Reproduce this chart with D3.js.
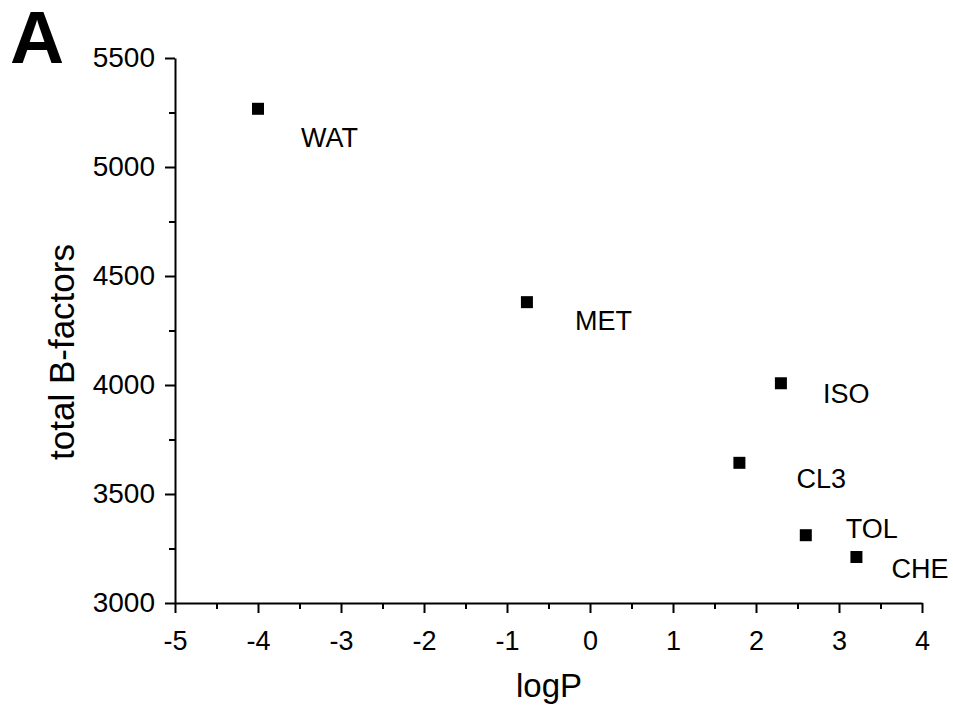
<!DOCTYPE html>
<html>
<head>
<meta charset="utf-8">
<script src="https://cdn.jsdelivr.net/npm/d3@7/dist/d3.min.js"></script>
<style>
  html, body { margin: 0; padding: 0; background: #fff; }
  svg { display: block; font-family: "Liberation Sans", Arial, sans-serif; }
</style>
</head>
<body>
<svg id="chart" width="953" height="713"></svg>
<script>
// ---- data ----
const solvents = ["WAT", "MET", "ISO", "CL3", "TOL", "CHE"];
const logP     = [-4.0, -0.76, 2.30, 1.80, 2.60, 3.21];
const bFactors = [5267, 4380, 4008, 3643, 3311, 3211];
const xTicks = [-5, -4, -3, -2, -1, 0, 1, 2, 3, 4];
const yTicks = [3000, 3500, 4000, 4500, 5000, 5500];
const xMinorTicks = [-4.5, -3.5, -2.5, -1.5, -0.5, 0.5, 1.5, 2.5, 3.5];
const yMinorTicks = [3250, 3750, 4250, 4750, 5250];
// label offsets (px) relative to marker centre
const labelDx = [43, 48, 42, 57, 40, 35];
const labelDy = [38, 28, 20, 25, 3, 21];

const svg = d3.select("#chart");
const x = d3.scaleLinear().domain([-5, 4]).range([175, 922]);
const y = d3.scaleLinear().domain([3000, 5500]).range([603, 58]);

// minor ticks
svg.append("g").attr("transform", "translate(0,603)")
  .call(d3.axisBottom(x).tickValues(xMinorTicks).tickSize(6).tickFormat(""))
  .call(g => g.select(".domain").remove())
  .call(g => g.selectAll("line").attr("stroke", "#000").attr("stroke-width", 2));
svg.append("g").attr("transform", "translate(175,0)")
  .call(d3.axisLeft(y).tickValues(yMinorTicks).tickSize(6).tickFormat(""))
  .call(g => g.select(".domain").remove())
  .call(g => g.selectAll("line").attr("stroke", "#000").attr("stroke-width", 2));

// major axes
const xAxis = svg.append("g").attr("transform", "translate(0,603)")
  .call(d3.axisBottom(x).tickValues(xTicks).tickSize(10).tickSizeOuter(0).tickPadding(18).tickFormat(d3.format("d")));
const yAxis = svg.append("g").attr("transform", "translate(175,0)")
  .call(d3.axisLeft(y).tickValues(yTicks).tickSize(10).tickSizeOuter(0).tickPadding(10).tickFormat(d3.format("d")));

[xAxis, yAxis].forEach(g => {
  g.select(".domain").attr("stroke", "#000").attr("stroke-width", 2);
  g.selectAll(".tick line").attr("stroke", "#000").attr("stroke-width", 2);
  g.selectAll(".tick text").attr("fill", "#000")
    .attr("font-family", "'Liberation Sans', Arial, sans-serif");
});
xAxis.selectAll(".tick text").attr("font-size", 27).text(d => d < 0 ? "-" + Math.abs(d) : d);
yAxis.selectAll(".tick text").attr("font-size", 28);

// markers
const pts = solvents.map((s, i) => ({ s, x: logP[i], y: bFactors[i], dx: labelDx[i], dy: labelDy[i] }));
svg.append("g").selectAll("rect").data(pts).join("rect")
  .attr("x", d => x(d.x) - 6).attr("y", d => y(d.y) - 6)
  .attr("width", 12).attr("height", 12).attr("fill", "#000");

svg.append("g").selectAll("text").data(pts).join("text")
  .attr("x", d => x(d.x) + d.dx).attr("y", d => y(d.y) + d.dy)
  .attr("font-size", 27).attr("fill", "#000").text(d => d.s);

// axis titles
svg.append("text").attr("x", 549).attr("y", 697).attr("text-anchor", "middle")
  .attr("font-size", 33).attr("fill", "#000").text("logP");
svg.append("text").attr("transform", "translate(74,352) rotate(-90)").attr("text-anchor", "middle")
  .attr("font-size", 35).attr("fill", "#000").text("total B-factors");

// panel letter
svg.append("text").attr("x", 10).attr("y", 63).attr("font-size", 75).attr("font-weight", "bold")
  .attr("fill", "#000").text("A");
</script>
</body>
</html>
